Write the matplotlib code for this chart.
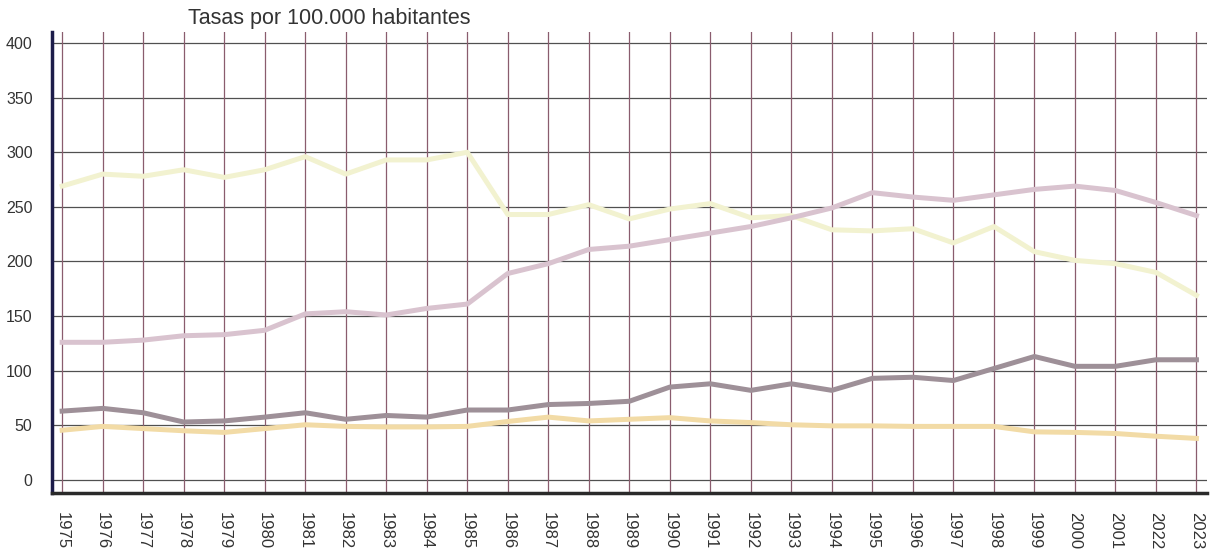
import matplotlib
matplotlib.use("Agg")
import matplotlib.pyplot as plt
import numpy as np

plt.rcParams['font.family'] = ['Liberation Sans', 'DejaVu Sans']

# etiquetas tal como aparecen en el original
anios = ['1975', '1976', '1977', '1978', '1979', '1980', '1981', '1982', '1983',
         '1984', '1985', '1986', '1987', '1988', '1989', '1990', '1991', '1992',
         '1993', '1994', '1995', '1996', '1997', '1998', '1999', '2000', '2001',
         '2022', '2023']

serie_amarilla = [269, 280, 278, 284, 277, 284, 296, 280, 293, 293, 300, 243, 243,
                  252, 239, 248, 253, 240, 242, 229, 228, 230, 217, 232, 209, 201,
                  198, 190, 169]
serie_rosa = [126, 126, 128, 132, 133, 137, 152, 154, 151, 157, 161, 189, 198, 211,
              214, 220, 226, 232, 240, 249, 263, 259, 256, 261, 266, 269, 265, 254,
              242]
serie_gris = [63, 65.5, 61.5, 53, 54, 57.5, 61.5, 55.5, 59, 57.5, 64, 64, 69, 70,
              72, 85, 88, 82, 88, 82, 93, 94, 91, 102, 113, 104, 104, 110, 110]
serie_naranja = [45.5, 49, 47, 45, 43.5, 47, 50.5, 49, 48.5, 48.5, 49, 53.5, 57.5,
                 54, 55.5, 57, 54, 52.5, 50.5, 49.5, 49.5, 49, 49, 49, 44, 43.5,
                 42.5, 40, 38]

ticks_y = [0, 50, 100, 150, 200, 250, 300, 350, 400]

x = np.arange(len(anios))

fig = plt.figure(figsize=(12.1, 5.5), dpi=100)
ax = fig.add_axes([0.043, 0.1036, 0.9545, 0.838])

# cuadricula
for v in ticks_y:
    ax.axhline(v, color='#505050', lw=0.9, zorder=1)
for xi in x:
    ax.axvline(xi, color='#8a5c6e', lw=0.9, zorder=1)

ax.plot(x, serie_amarilla, color='#f2f2d0', lw=3.6, zorder=3)
ax.plot(x, serie_rosa, color='#d9c3cf', lw=3.6, zorder=3)
ax.plot(x, serie_gris, color='#9e9098', lw=3.6, zorder=3)
ax.plot(x, serie_naranja, color='#f2dba6', lw=3.6, zorder=3)

ax.set_xlim(-0.25, 28.26)
ax.set_ylim(-12, 410)

ax.set_xticks(x)
ax.set_xticklabels(anios, rotation=-90, fontsize=12, color='#333333')
ax.set_yticks(ticks_y)
ax.set_yticklabels([str(v) for v in ticks_y], fontsize=11.5, color='#333333')
ax.tick_params(axis='both', length=0)
ax.tick_params(axis='y', pad=14)
ax.tick_params(axis='x', pad=14)

for s in ['top', 'right']:
    ax.spines[s].set_visible(False)
ax.spines['left'].set_color('#1c1c4a')
ax.spines['left'].set_linewidth(2.5)
ax.spines['bottom'].set_color('#2a2a2a')
ax.spines['bottom'].set_linewidth(2.5)

fig.text(0.155, 0.967, 'Tasas por 100.000 habitantes', fontsize=15.5,
         color='#333333', ha='left', va='center')

fig.savefig('out.png', dpi=100)
